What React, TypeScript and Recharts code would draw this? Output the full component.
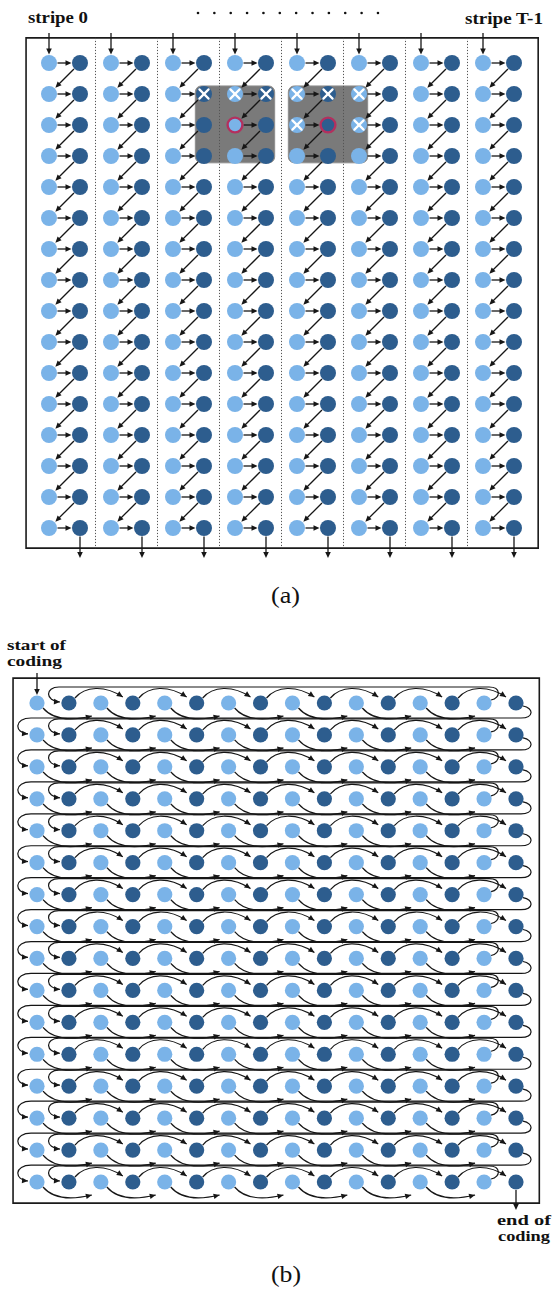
import {
  ScatterChart, Scatter, XAxis, YAxis, ReferenceLine, ReferenceArea, Customized,
} from "recharts";

const LIGHT = "#7ab3e8";
const DARK = "#2d5d8e";
const INK = "#161616";
const RING = "#b3305e";
const SERIF = "Liberation Serif, Times New Roman, Times, serif";

// (a) stripe-parallel order: every stripe holds a light/dark column pair
const STRIPES = [0, 1, 2, 3, 4, 5, 6, 7];
const ROWS_A = [0, 1, 2, 3, 4, 5, 6, 7, 8, 9, 10, 11, 12, 13, 14, 15];
// already coded neighbours (crossed) and the current sample (ringed)
const CROSSED_A = [
  { x: 2.5, y: 1 }, { x: 3, y: 1 }, { x: 3.5, y: 1 },
  { x: 4, y: 1 }, { x: 4.5, y: 1 }, { x: 5, y: 1 },
  { x: 4, y: 2 }, { x: 5, y: 2 },
];
const TARGETS_A = [{ x: 3, y: 2 }, { x: 4.5, y: 2 }];
const WINDOWS_A = [
  { from: 2.5, to: 3.5, top: 1, bottom: 3 },
  { from: 4, to: 5, top: 1, bottom: 3 },
];

// (b) raster order over the whole block
const COLS_B = [0, 1, 2, 3, 4, 5, 6, 7, 8, 9, 10, 11, 12, 13, 14, 15];
const ROWS_B = [0, 1, 2, 3, 4, 5, 6, 7, 8, 9, 10, 11, 12, 13, 14, 15];

const same = (a: { x: number; y: number }, b: { x: number; y: number }) => a.x === b.x && a.y === b.y;

const nodesA = STRIPES.flatMap((s) =>
  ROWS_A.flatMap((r) =>
    [
      { x: s, y: r, tone: "light" },
      { x: s + 0.5, y: r, tone: "dark" },
    ].map((p) => ({
      ...p,
      crossed: CROSSED_A.some((c) => same(c, p)),
      target: TARGETS_A.some((c) => same(c, p)),
    })),
  ),
);

const nodesB = ROWS_B.flatMap((r) =>
  COLS_B.map((c) => ({ x: c, y: r, tone: c % 2 === 0 ? "light" : "dark", crossed: false, target: false })),
);

function head(tx: number, ty: number, a: number) {
  const L = 6, W = 2.8;
  const bx = tx - L * Math.cos(a), by = ty - L * Math.sin(a);
  const nx = -Math.sin(a) * W, ny = Math.cos(a) * W;
  return <polygon points={`${tx},${ty} ${bx + nx},${by + ny} ${bx - nx},${by - ny}`} fill={INK} />;
}

const straight = (trimStart: number, trimEnd: number) => (p: any) => {
  const { x1, y1, x2, y2 } = p;
  const a = Math.atan2(y2 - y1, x2 - x1);
  const c = Math.cos(a), s = Math.sin(a);
  const ex = x2 - c * trimEnd, ey = y2 - s * trimEnd;
  return (
    <g>
      <line x1={x1 + c * trimStart} y1={y1 + s * trimStart} x2={ex - c * 4} y2={ey - s * 4} stroke={INK} strokeWidth={1.3} />
      {head(ex, ey, a)}
    </g>
  );
};

// curved hops used by the raster scan
const curve = (kind: "under" | "over" | "back" | "wrap") => (p: any) => {
  const { x1, y1, x2, y2 } = p;
  let d = "", tx = 0, ty = 0, a = 0;
  if (kind === "under") {
    tx = x2 - 9; ty = y1 + 13;
    d = `M${x1 + 6},${y1 + 5} C${x1 + 16},${y1 + 17} ${x2 - 30},${y1 + 18} ${tx},${ty}`;
    a = Math.atan2(-5, 21);
  } else if (kind === "over") {
    tx = x2 - 10; ty = y1 - 6;
    d = `M${x1 + 6},${y1 - 5} C${x1 + 16},${y1 - 17} ${x2 - 28},${y1 - 18} ${tx},${ty}`;
    a = Math.atan2(12, 18);
  } else if (kind === "back") {
    tx = x2 - 9; ty = y2 - 1;
    d = `M${x1 + 7},${y1 - 3} C${x1 + 17},${y1 - 5} ${x1 + 17},${y1 - 16} ${x1 + 5},${y1 - 16} L${x2 - 10},${y1 - 16} C${x2 - 24},${y1 - 16} ${x2 - 24},${y2 - 2} ${tx},${ty}`;
    a = Math.atan2(1, 15);
  } else {
    tx = x2 - 9; ty = y2 - 1;
    d = `M${x1 + 7},${y1 + 3} C${x1 + 18},${y1 + 5} ${x1 + 18},${y1 + 15} ${x1 + 5},${y1 + 15} L${x2 - 6},${y1 + 15} C${x2 - 23},${y1 + 15} ${x2 - 23},${y2 - 2} ${tx},${ty}`;
    a = Math.atan2(1, 14);
  }
  return (
    <g>
      <path d={d} fill="none" stroke={INK} strokeWidth={1.2} />
      {head(tx, ty, a)}
    </g>
  );
};

const node = (r: number) => (props: any) => {
  const { cx, cy, payload } = props;
  const fill = payload.tone === "light" ? LIGHT : DARK;
  const k = 4.6;
  return (
    <g>
      <circle cx={cx} cy={cy} r={payload.target ? r - 0.6 : r} fill={fill}
        stroke={payload.target ? RING : "none"} strokeWidth={2.4} />
      {payload.crossed && (
        <g stroke="#fff" strokeWidth={2.2} strokeLinecap="round">
          <line x1={cx - k} y1={cy - k} x2={cx + k} y2={cy + k} />
          <line x1={cx - k} y1={cy + k} x2={cx + k} y2={cy - k} />
        </g>
      )}
    </g>
  );
};

type Edge = { from: { x: number; y: number }; to: { x: number; y: number }; shape: (p: any) => any };

const edgesA: Edge[] = [];
STRIPES.forEach((s) => {
  edgesA.push({ from: { x: s, y: -0.97 }, to: { x: s, y: 0 }, shape: straight(0, 8.5) });
  ROWS_A.forEach((r) => {
    edgesA.push({ from: { x: s, y: r }, to: { x: s + 0.5, y: r }, shape: straight(8.5, 8.5) });
    if (r < ROWS_A.length - 1)
      edgesA.push({ from: { x: s + 0.5, y: r }, to: { x: s, y: r + 1 }, shape: straight(8.5, 9) });
  });
  edgesA.push({ from: { x: s + 0.5, y: 15 }, to: { x: s + 0.5, y: 15.97 }, shape: straight(8.5, 0) });
});

const edgesB: Edge[] = [{ from: { x: 0, y: -0.94 }, to: { x: 0, y: 0 }, shape: straight(0, 8) }];
ROWS_B.forEach((r) => {
  for (let c = 0; c <= 12; c += 2) edgesB.push({ from: { x: c, y: r }, to: { x: c + 2, y: r }, shape: curve("under") });
  for (let c = 1; c <= 13; c += 2) edgesB.push({ from: { x: c, y: r }, to: { x: c + 2, y: r }, shape: curve("over") });
  edgesB.push({ from: { x: 14, y: r }, to: { x: 1, y: r }, shape: curve("back") });
  if (r < ROWS_B.length - 1) edgesB.push({ from: { x: 15, y: r }, to: { x: 0, y: r + 1 }, shape: curve("wrap") });
});
edgesB.push({ from: { x: 15, y: 15 }, to: { x: 15, y: 15.88 }, shape: straight(8, 0) });

const boldText = { fontFamily: SERIF, fontWeight: 700, fontSize: 17, fill: "#111" } as const;
const noteText = { fontFamily: SERIF, fontWeight: 700, fontSize: 15, fill: "#111" } as const;
const capText = { fontFamily: SERIF, fontSize: 23, fill: "#111" } as const;

function HeaderA() {
  return (
    <g>
      <text x={28} y={23} {...boldText} textLength={60} lengthAdjust="spacingAndGlyphs">stripe 0</text>
      <text x={465} y={24} {...boldText} textLength={78} lengthAdjust="spacingAndGlyphs">stripe T-1</text>
      {Array.from({ length: 12 }, (_, i) => (
        <circle key={i} cx={198 + i * 16.36} cy={13} r={1.3} fill="#111" />
      ))}
      <text x={271} y={603} {...capText} textLength={29} lengthAdjust="spacingAndGlyphs">(a)</text>
    </g>
  );
}

function NotesB() {
  return (
    <g>
      <text x={7} y={30} {...noteText} textLength={59} lengthAdjust="spacingAndGlyphs">start of</text>
      <text x={7} y={46} {...noteText} textLength={55} lengthAdjust="spacingAndGlyphs">coding</text>
      <text x={497} y={605} {...noteText} textLength={54} lengthAdjust="spacingAndGlyphs">end of</text>
      <text x={498} y={621} {...noteText} textLength={52} lengthAdjust="spacingAndGlyphs">coding</text>
      <text x={271} y={662} {...capText} textLength={30} lengthAdjust="spacingAndGlyphs">(b)</text>
    </g>
  );
}

export default function App() {
  return (
    <div style={{ position: "absolute", left: 0, top: 0, width: 560, height: 1291, background: "#fff" }}>
      <ScatterChart width={560} height={620} margin={{ top: 63, right: 46, bottom: 92, left: 49 }}>
        <XAxis type="number" dataKey="x" domain={[0, 7.5]} hide />
        <YAxis type="number" dataKey="y" domain={[0, 15]} reversed hide />
        {WINDOWS_A.map((w, i) => (
          <ReferenceArea key={`w${i}`} x1={w.from - 0.14} x2={w.to + 0.14} y1={w.top - 0.26} y2={w.bottom + 0.22}
            ifOverflow="visible"
            shape={(p: any) => <rect x={p.x} y={p.y} width={p.width} height={p.height} rx={6} fill="#7a7a7a" stroke="#8e8e8e" />} />
        ))}
        <ReferenceArea x1={-0.37} x2={7.89} y1={-0.81} y2={15.65} ifOverflow="visible"
          fill="none" fillOpacity={0} stroke="#1a1a1a" strokeWidth={1.6} />
        {STRIPES.slice(0, -1).map((s) => (
          <ReferenceLine key={`sep${s}`} segment={[{ x: s + 0.75, y: -0.81 }, { x: s + 0.75, y: 15.65 }]}
            ifOverflow="visible" stroke="#555" strokeWidth={1} strokeDasharray="1.2 1.8" />
        ))}
        {edgesA.map((e, i) => (
          <ReferenceLine key={`a${i}`} segment={[e.from, e.to]} ifOverflow="visible" shape={e.shape} />
        ))}
        <Scatter data={nodesA} shape={node(8)} isAnimationActive={false} />
        <Customized component={HeaderA} />
      </ScatterChart>
      <ScatterChart width={560} height={671} margin={{ top: 83, right: 44, bottom: 109, left: 37 }}>
        <XAxis type="number" dataKey="x" domain={[0, 15]} hide />
        <YAxis type="number" dataKey="y" domain={[0, 15]} reversed hide />
        <ReferenceArea x1={-0.75} x2={15.73} y1={-0.78} y2={15.66} ifOverflow="visible"
          fill="none" fillOpacity={0} stroke="#1a1a1a" strokeWidth={1.6} />
        {edgesB.map((e, i) => (
          <ReferenceLine key={`b${i}`} segment={[e.from, e.to]} ifOverflow="visible" shape={e.shape} />
        ))}
        <Scatter data={nodesB} shape={node(7.6)} isAnimationActive={false} />
        <Customized component={NotesB} />
      </ScatterChart>
    </div>
  );
}
